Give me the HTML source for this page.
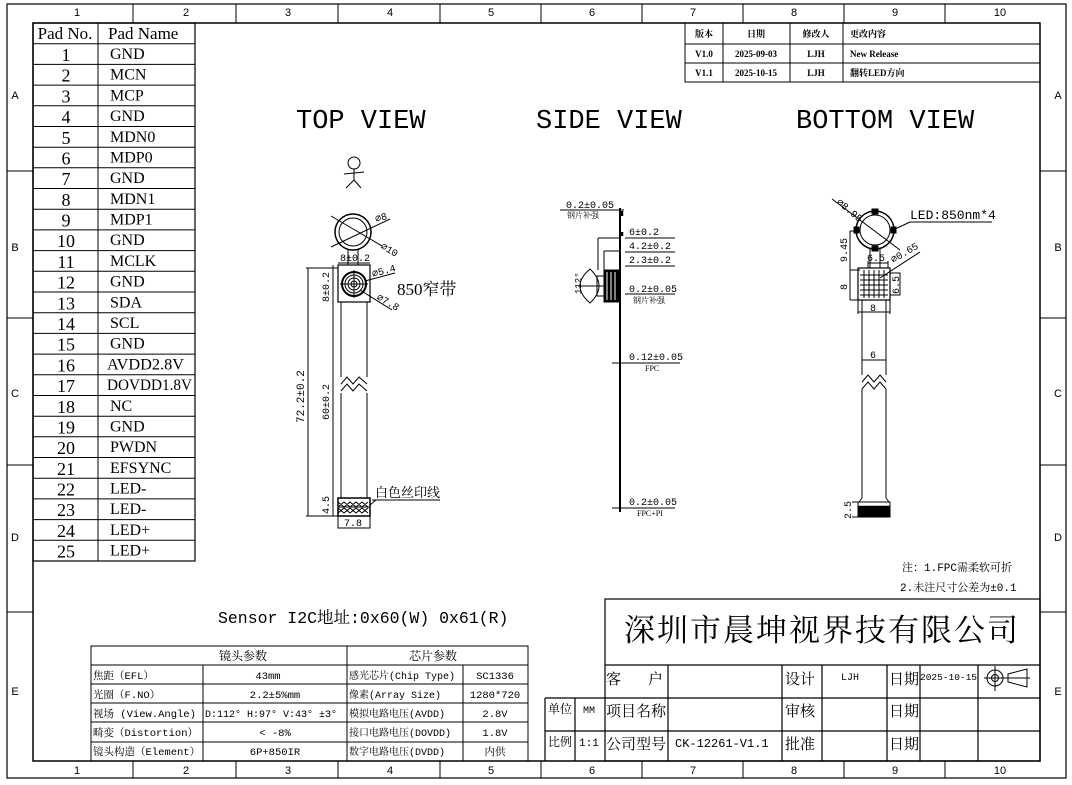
<!DOCTYPE html>
<html><head><meta charset="utf-8"><style>
html,body{margin:0;padding:0;background:#fff;}
svg{display:block;}
text{fill:#000;}
.s{font-family:"Liberation Serif","Noto Serif CJK SC",serif;}
.m{font-family:"Liberation Mono","Noto Serif CJK SC",monospace;}
.a{font-family:"Liberation Sans",sans-serif;}
</style></head><body>
<svg width="1072" height="785" viewBox="0 0 1072 785" xmlns="http://www.w3.org/2000/svg">
<g fill="none" stroke="#000">
<rect x="7" y="4" width="1059" height="774" stroke-width="1.2"/>
<rect x="33" y="23" width="1007" height="738" stroke-width="1.5"/>
<g stroke-width="1">
<line x1="133" y1="4" x2="133" y2="23"/><line x1="236" y1="4" x2="236" y2="23"/><line x1="338" y1="4" x2="338" y2="23"/><line x1="440" y1="4" x2="440" y2="23"/><line x1="541" y1="4" x2="541" y2="23"/><line x1="642" y1="4" x2="642" y2="23"/><line x1="743" y1="4" x2="743" y2="23"/><line x1="844" y1="4" x2="844" y2="23"/><line x1="945" y1="4" x2="945" y2="23"/>
<line x1="133" y1="761" x2="133" y2="778"/><line x1="236" y1="761" x2="236" y2="778"/><line x1="338" y1="761" x2="338" y2="778"/><line x1="440" y1="761" x2="440" y2="778"/><line x1="541" y1="761" x2="541" y2="778"/><line x1="642" y1="761" x2="642" y2="778"/><line x1="743" y1="761" x2="743" y2="778"/><line x1="844" y1="761" x2="844" y2="778"/><line x1="945" y1="761" x2="945" y2="778"/>
<line x1="7" y1="171" x2="33" y2="171"/><line x1="7" y1="318" x2="33" y2="318"/><line x1="7" y1="465" x2="33" y2="465"/><line x1="7" y1="612" x2="33" y2="612"/>
<line x1="1040" y1="171" x2="1066" y2="171"/><line x1="1040" y1="318" x2="1066" y2="318"/><line x1="1040" y1="465" x2="1066" y2="465"/><line x1="1040" y1="612" x2="1066" y2="612"/>
</g>
<rect x="33" y="23" width="162" height="538" stroke-width="1.2"/>
<line x1="98" y1="23" x2="98" y2="561"/>
<g stroke-width="1">
<line x1="33" x2="195" y1="43.7" y2="43.7"/><line x1="33" x2="195" y1="64.4" y2="64.4"/><line x1="33" x2="195" y1="85.1" y2="85.1"/><line x1="33" x2="195" y1="105.8" y2="105.8"/><line x1="33" x2="195" y1="126.5" y2="126.5"/><line x1="33" x2="195" y1="147.2" y2="147.2"/><line x1="33" x2="195" y1="167.8" y2="167.8"/><line x1="33" x2="195" y1="188.5" y2="188.5"/><line x1="33" x2="195" y1="209.2" y2="209.2"/><line x1="33" x2="195" y1="229.9" y2="229.9"/><line x1="33" x2="195" y1="250.6" y2="250.6"/><line x1="33" x2="195" y1="271.3" y2="271.3"/><line x1="33" x2="195" y1="292" y2="292"/><line x1="33" x2="195" y1="312.7" y2="312.7"/><line x1="33" x2="195" y1="333.4" y2="333.4"/><line x1="33" x2="195" y1="354.1" y2="354.1"/><line x1="33" x2="195" y1="374.8" y2="374.8"/><line x1="33" x2="195" y1="395.5" y2="395.5"/><line x1="33" x2="195" y1="416.2" y2="416.2"/><line x1="33" x2="195" y1="436.8" y2="436.8"/><line x1="33" x2="195" y1="457.5" y2="457.5"/><line x1="33" x2="195" y1="478.2" y2="478.2"/><line x1="33" x2="195" y1="498.9" y2="498.9"/><line x1="33" x2="195" y1="519.6" y2="519.6"/><line x1="33" x2="195" y1="540.3" y2="540.3"/>
</g>
</g>
<g class="a" font-size="11" text-anchor="middle">
<text x="77" y="16">1</text><text x="186" y="16">2</text><text x="288" y="16">3</text><text x="390" y="16">4</text><text x="491" y="16">5</text><text x="592" y="16">6</text><text x="693" y="16">7</text><text x="794" y="16">8</text><text x="895" y="16">9</text><text x="1000" y="16">10</text>
<text x="77" y="774">1</text><text x="186" y="774">2</text><text x="288" y="774">3</text><text x="390" y="774">4</text><text x="491" y="774">5</text><text x="592" y="774">6</text><text x="693" y="774">7</text><text x="794" y="774">8</text><text x="895" y="774">9</text><text x="1000" y="774">10</text>
<text x="15" y="99">A</text><text x="15" y="251">B</text><text x="15" y="397">C</text><text x="15" y="541">D</text><text x="15" y="695">E</text>
<text x="1058" y="99">A</text><text x="1058" y="251">B</text><text x="1058" y="397">C</text><text x="1058" y="541">D</text><text x="1058" y="695">E</text>
</g>
<g class="s" font-size="16">
<text x="65" y="39" text-anchor="middle" font-size="17">Pad No.</text><text x="108" y="39" font-size="17">Pad Name</text>
<g text-anchor="middle" font-size="18">
<text x="66" y="61">1</text><text x="66" y="81.7">2</text><text x="66" y="102.4">3</text><text x="66" y="123.1">4</text><text x="66" y="143.8">5</text><text x="66" y="164.5">6</text><text x="66" y="185.2">7</text><text x="66" y="205.8">8</text><text x="66" y="226.5">9</text><text x="66" y="247.2">10</text><text x="66" y="267.9">11</text><text x="66" y="288.6">12</text><text x="66" y="309.3">13</text><text x="66" y="330">14</text><text x="66" y="350.7">15</text><text x="66" y="371.4">16</text><text x="66" y="392.1">17</text><text x="66" y="412.8">18</text><text x="66" y="433.5">19</text><text x="66" y="454.1">20</text><text x="66" y="474.8">21</text><text x="66" y="495.5">22</text><text x="66" y="516.2">23</text><text x="66" y="536.9">24</text><text x="66" y="557.6">25</text>
</g>
<g>
<text x="110" y="59">GND</text><text x="110" y="79.7">MCN</text><text x="110" y="100.4">MCP</text><text x="110" y="121.1">GND</text><text x="110" y="141.8">MDN0</text><text x="110" y="162.5">MDP0</text><text x="110" y="183.2">GND</text><text x="110" y="203.8">MDN1</text><text x="110" y="224.5">MDP1</text><text x="110" y="245.2">GND</text><text x="110" y="265.9">MCLK</text><text x="110" y="286.6">GND</text><text x="110" y="307.3">SDA</text><text x="110" y="328">SCL</text><text x="110" y="348.7">GND</text><text x="107" y="369.4" textLength="77" lengthAdjust="spacingAndGlyphs">AVDD2.8V</text><text x="107" y="390.1" textLength="85" lengthAdjust="spacingAndGlyphs">DOVDD1.8V</text><text x="110" y="410.8">NC</text><text x="110" y="431.5">GND</text><text x="110" y="452.1">PWDN</text><text x="110" y="472.8">EFSYNC</text><text x="110" y="493.5">LED-</text><text x="110" y="514.2">LED-</text><text x="110" y="534.9">LED+</text><text x="110" y="555.6">LED+</text>
</g>
</g>
<g fill="none" stroke="#000" stroke-width="1">
<rect x="685" y="23" width="355" height="59"/>
<line x1="685" y1="44" x2="1040" y2="44"/><line x1="685" y1="63" x2="1040" y2="63"/>
<line x1="723" y1="23" x2="723" y2="82"/><line x1="790" y1="23" x2="790" y2="82"/><line x1="843" y1="23" x2="843" y2="82"/>
</g>
<g class="s" font-size="9" font-weight="bold">
<text x="704" y="37" text-anchor="middle">版本</text><text x="756" y="37" text-anchor="middle">日期</text><text x="816" y="37" text-anchor="middle">修改人</text><text x="850" y="37">更改内容</text>
<text x="704" y="57" text-anchor="middle">V1.0</text><text x="756" y="57" text-anchor="middle">2025-09-03</text><text x="816" y="57" text-anchor="middle">LJH</text><text x="850" y="57">New Release</text>
<text x="704" y="76" text-anchor="middle">V1.1</text><text x="756" y="76" text-anchor="middle">2025-10-15</text><text x="816" y="76" text-anchor="middle">LJH</text><text x="850" y="76">翻转LED方向</text>
</g>
<g class="m" font-size="27">
<text x="296" y="128">TOP VIEW</text><text x="536" y="128">SIDE VIEW</text><text x="796" y="128">BOTTOM VIEW</text>
</g>
<!-- TOP VIEW -->
<g fill="none" stroke="#000" stroke-width="1">
<circle cx="354" cy="163" r="6"/><line x1="354" y1="169" x2="354" y2="180"/><line x1="344" y1="174" x2="364" y2="172"/><line x1="354" y1="180" x2="346" y2="188"/><line x1="354" y1="180" x2="361" y2="188"/>
<circle cx="353" cy="232" r="18" stroke-width="1.5"/><circle cx="353" cy="232" r="14"/>
<line x1="331" y1="216" x2="382" y2="246"/><line x1="331" y1="247" x2="390" y2="219"/>
<line x1="348" y1="250" x2="348" y2="265"/><line x1="358" y1="250" x2="358" y2="265"/>
<rect x="338" y="265" width="32" height="37" stroke-width="1.2"/>
<circle cx="354" cy="284" r="12" stroke-width="2"/><circle cx="354" cy="284" r="9"/><circle cx="354" cy="284" r="6"/><circle cx="354" cy="284" r="3"/>
<line x1="340" y1="284" x2="368" y2="284"/><line x1="354" y1="270" x2="354" y2="298"/>
<line x1="365" y1="281" x2="395" y2="273"/><line x1="360" y1="290" x2="392" y2="310"/>
<line x1="341" y1="302" x2="341" y2="377"/><line x1="367" y1="302" x2="367" y2="377"/>
<line x1="341" y1="393" x2="341" y2="498"/><line x1="367" y1="393" x2="367" y2="498"/>
<polyline points="341,384 347,377 353,384 359,377 367,384"/>
<polyline points="341,391 347,384 353,391 359,384 367,391"/>
<rect x="338" y="498" width="32" height="18" stroke-width="1.5"/>
<path d="M338,502 l6,5 l6,-5 l6,5 l6,-5 l6,5 M338,507 l6,-5 l6,5 l6,-5 l6,5 l6,-5 M338,508 l6,5 l6,-5 l6,5 l6,-5 l6,5 M338,513 l6,-5 l6,5 l6,-5 l6,5 l6,-5"/>
<line x1="338" y1="507" x2="370" y2="507"/>
<rect x="338" y="516" width="32" height="12"/>
<line x1="308" y1="268" x2="308" y2="516"/><line x1="306" y1="268" x2="338" y2="268"/><line x1="306" y1="516" x2="338" y2="516"/>
<line x1="333" y1="265" x2="333" y2="516"/>
<line x1="338" y1="263" x2="370" y2="263"/>
<line x1="372" y1="500" x2="440" y2="500"/><line x1="370" y1="505" x2="376" y2="500"/>
</g>
<g class="m" font-size="10">
<text x="340" y="261">8±0.2</text>
<text x="376" y="222" transform="rotate(-15 376 222)">⌀8</text>
<text x="380" y="248" transform="rotate(30 380 248)">⌀10</text>
<text x="373" y="277" transform="rotate(-15 373 277)">⌀5.4</text>
<text x="376" y="299" transform="rotate(30 376 299)">⌀7.8</text>
<text x="344" y="526">7.8</text>
<text transform="translate(304,423) rotate(-90)" font-size="11">72.2±0.2</text>
<text transform="translate(329,420) rotate(-90)">60±0.2</text>
<text transform="translate(329,302) rotate(-90)">8±0.2</text>
<text transform="translate(329,514) rotate(-90)">4.5</text>
</g>
<text class="s" x="397" y="295" font-size="17">850窄带</text>
<text class="s" x="375" y="497" font-size="13">白色丝印线</text>
<!-- SIDE VIEW -->
<g fill="none" stroke="#000" stroke-width="1">
<line x1="620" y1="208" x2="620" y2="512" stroke-width="2"/>
<rect x="604" y="270" width="16" height="32" fill="#000" stroke-width="1"/>
<line x1="607" y1="272" x2="607" y2="300" stroke="#fff"/><line x1="611" y1="272" x2="611" y2="300" stroke="#fff"/><line x1="615" y1="272" x2="615" y2="300" stroke="#fff"/>
<rect x="597" y="276" width="7" height="20"/>
<path d="M590,269 Q570,286 590,303 Q608,286 590,269Z"/>
<line x1="578" y1="286" x2="604" y2="286"/>
<line x1="598" y1="238" x2="620" y2="238"/><line x1="598" y1="238" x2="598" y2="270"/>
<line x1="604" y1="251" x2="620" y2="251"/><line x1="604" y1="251" x2="604" y2="270"/>
<line x1="560" y1="210" x2="624" y2="210"/>
<line x1="625" y1="238" x2="675" y2="238"/><line x1="625" y1="252" x2="675" y2="252"/><line x1="625" y1="266" x2="675" y2="266"/>
<line x1="625" y1="294" x2="675" y2="294"/><line x1="612" y1="363" x2="680" y2="363"/><line x1="612" y1="508" x2="675" y2="508"/>
</g>
<g stroke="#000" stroke-width="2.5"><line x1="622" y1="211" x2="622" y2="216"/><line x1="622" y1="232" x2="622" y2="236"/></g>
<g class="m" font-size="10">
<text x="566" y="208">0.2±0.05</text>
<text x="629" y="235">6±0.2</text><text x="629" y="249">4.2±0.2</text><text x="629" y="263">2.3±0.2</text>
<text x="629" y="292">0.2±0.05</text>
<text x="629" y="360">0.12±0.05</text>
<text x="629" y="505">0.2±0.05</text>
<text transform="translate(581,294) rotate(-90)" font-size="9">112°</text>
</g>
<g class="s" font-size="8">
<text x="567" y="218">钢片补强</text><text x="633" y="303">钢片补强</text><text x="645" y="371">FPC</text><text x="637" y="516">FPC+PI</text>
</g>
<!-- BOTTOM VIEW -->
<g fill="none" stroke="#000" stroke-width="1">
<circle cx="875" cy="230" r="19" stroke-width="1.5"/><circle cx="875" cy="230" r="15"/>
<rect x="872" y="209" width="6" height="5" fill="#000"/><rect x="872" y="246" width="6" height="5" fill="#000"/><rect x="854" y="227" width="5" height="6" fill="#000"/><rect x="891" y="227" width="5" height="6" fill="#000"/>
<line x1="832" y1="199" x2="900" y2="250"/>
<line x1="893" y1="230" x2="910" y2="222"/><line x1="910" y1="222" x2="992" y2="222"/>
<line x1="870" y1="249" x2="870" y2="268"/><line x1="880" y1="249" x2="880" y2="268"/>
<line x1="850" y1="231" x2="860" y2="231"/><line x1="850" y1="231" x2="850" y2="300"/><line x1="850" y1="270" x2="860" y2="270"/><line x1="850" y1="300" x2="860" y2="300"/>
<rect x="858" y="268" width="32" height="32" stroke-width="1.2"/>
<path d="M864,270 V298 M869,270 V298 M874,270 V298 M879,270 V298 M884,270 V298 M860,275 H888 M860,280 H888 M860,285 H888 M860,290 H888 M860,295 H888"/>
<rect x="890" y="273" width="10" height="22"/>
<line x1="868" y1="268" x2="868" y2="261"/><line x1="888" y1="268" x2="888" y2="261"/><line x1="868" y1="263" x2="888" y2="263"/>
<line x1="880" y1="278" x2="920" y2="252"/>
<line x1="858" y1="300" x2="858" y2="314"/><line x1="890" y1="300" x2="890" y2="314"/><line x1="858" y1="312" x2="890" y2="312"/>
<line x1="862" y1="300" x2="862" y2="375"/><line x1="886" y1="300" x2="886" y2="375"/>
<line x1="862" y1="360" x2="886" y2="360"/>
<polyline points="862,382 868,375 874,382 880,375 886,382"/>
<polyline points="862,389 868,382 874,389 880,382 886,389"/>
<line x1="862" y1="389" x2="862" y2="498"/><line x1="886" y1="389" x2="886" y2="498"/>
<path d="M862,498 L859,502 M886,498 L889,502"/>
<rect x="858" y="502" width="32" height="15" stroke-width="1"/>
<rect x="858" y="506" width="32" height="11" fill="#000" stroke-width="0.5"/>
<line x1="852" y1="502" x2="858" y2="502"/><line x1="852" y1="517" x2="858" y2="517"/>
</g>
<g class="m" font-size="10">
<text x="836" y="203" transform="rotate(40 836 203)">⌀8.95</text>
<text transform="translate(847,262) rotate(-90)">9.45</text>
<text transform="translate(847,290) rotate(-90)">8</text>
<text x="867" y="261">6.5</text>
<text x="893" y="263" transform="rotate(-30 893 263)">⌀0.65</text>
<text transform="translate(899,294) rotate(-90)">6.5</text>
<text x="870" y="311">8</text><text x="870" y="358">6</text>
<text transform="translate(851,519) rotate(-90)">2.5</text>
</g>
<text class="m" x="910" y="219" font-size="13">LED:850nm*4</text>
<text class="m" x="902" y="571" font-size="11">注：1.FPC需柔软可折</text>
<text class="m" x="900" y="591" font-size="11">2.未注尺寸公差为±0.1</text>
<text class="m" x="218" y="623" font-size="16.5">Sensor I2C地址:0x60(W) 0x61(R)</text>
<!-- lens table -->
<g fill="none" stroke="#000" stroke-width="1">
<rect x="91" y="646" width="437" height="115"/>
<line x1="91" y1="665" x2="528" y2="665"/><line x1="91" y1="684" x2="528" y2="684"/><line x1="91" y1="703" x2="528" y2="703"/><line x1="91" y1="722" x2="528" y2="722"/><line x1="91" y1="742" x2="528" y2="742"/>
<line x1="203" y1="665" x2="203" y2="761"/><line x1="347" y1="646" x2="347" y2="761"/><line x1="463" y1="665" x2="463" y2="761"/>
</g>
<g class="m" font-size="10.5">
<text x="219" y="660" font-size="12">镜头参数</text><text x="409" y="660" font-size="12">芯片参数</text>
<text x="93" y="679">焦距（EFL）</text><text x="93" y="698">光圈（F.NO）</text><text x="93" y="717">视场 (View.Angle)</text><text x="93" y="736">畸变（Distortion）</text><text x="93" y="755">镜头构造（Element）</text>
<text x="268" y="679" text-anchor="middle">43mm</text><text x="275" y="698" text-anchor="middle">2.2±5%mm</text><text x="205" y="717" font-size="10">D:112° H:97° V:43° ±3°</text><text x="275" y="736" text-anchor="middle">&lt; -8%</text><text x="275" y="755" text-anchor="middle">6P+850IR</text>
<text x="349" y="679" font-size="10">感光芯片(Chip Type)</text><text x="349" y="698" font-size="10">像素(Array Size)</text><text x="349" y="717" font-size="10">模拟电路电压(AVDD)</text><text x="349" y="736" font-size="10">接口电路电压(DOVDD)</text><text x="349" y="755" font-size="10">数字电路电压(DVDD)</text>
<text x="495" y="679" text-anchor="middle">SC1336</text><text x="495" y="698" text-anchor="middle">1280*720</text><text x="495" y="717" text-anchor="middle">2.8V</text><text x="495" y="736" text-anchor="middle">1.8V</text><text x="495" y="755" text-anchor="middle">内供</text>
</g>
<!-- title block -->
<g fill="none" stroke="#000" stroke-width="1.2">
<rect x="605" y="599" width="435" height="162"/>
<line x1="605" y1="665" x2="1040" y2="665"/><line x1="545" y1="698" x2="1040" y2="698"/><line x1="545" y1="731" x2="1040" y2="731"/>
<line x1="545" y1="698" x2="545" y2="761"/><line x1="575" y1="698" x2="575" y2="761"/>
<line x1="668" y1="665" x2="668" y2="761"/><line x1="782" y1="665" x2="782" y2="761"/><line x1="822" y1="665" x2="822" y2="761"/><line x1="887" y1="665" x2="887" y2="761"/><line x1="920" y1="665" x2="920" y2="761"/><line x1="978" y1="665" x2="978" y2="761"/>
<circle cx="995" cy="678" r="8" stroke-width="1"/><circle cx="995" cy="678" r="3.5" stroke-width="1"/>
<line x1="984" y1="678" x2="1030" y2="678" stroke-width="1"/><line x1="995" y1="666" x2="995" y2="691" stroke-width="1"/>
<path d="M1008,674 L1027,669 L1027,687 L1008,682 Z" stroke-width="1"/>
</g>
<text x="624" y="641" font-size="31" letter-spacing="2" font-family="Noto Serif CJK SC,serif">深圳市晨坤视界技有限公司</text>
<g class="s" font-size="15">
<text x="606" y="684">客</text><text x="648" y="684">户</text>
<text x="606" y="716">项目名称</text><text x="606" y="749">公司型号</text>
<text x="785" y="684">设计</text><text x="785" y="716">审核</text><text x="785" y="749">批准</text>
<text x="889" y="684">日期</text><text x="889" y="716">日期</text><text x="889" y="749">日期</text>
<text x="548" y="713" font-size="12">单位</text><text x="548" y="746" font-size="12">比例</text>
</g>
<g class="m" font-size="10">
<text x="583" y="713">MM</text><text x="579" y="746" font-size="11">1:1</text>
<text x="841" y="680">LJH</text><text x="920" y="680" font-size="9.5">2025-10-15</text>
<text x="675" y="747" font-size="12">CK-12261-V1.1</text>
</g>
</svg>
</body></html>
